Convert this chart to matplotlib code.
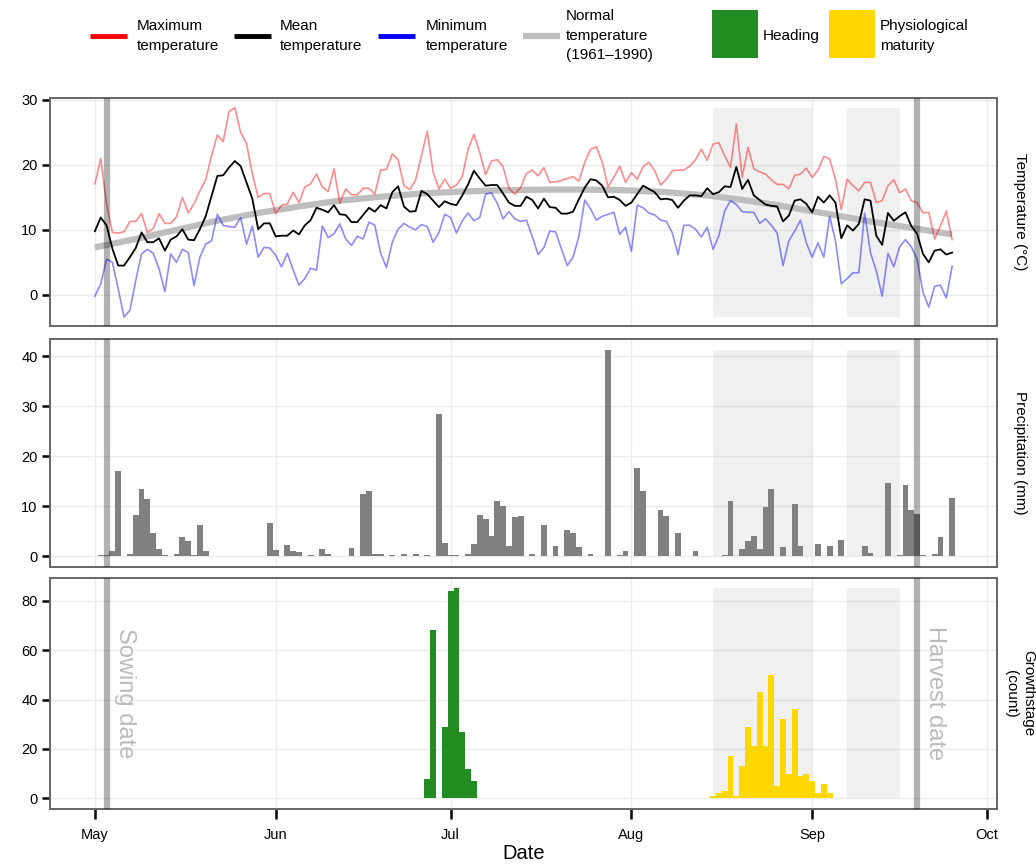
import numpy as np
import matplotlib
matplotlib.use("Agg")
import matplotlib.pyplot as plt
from matplotlib.lines import Line2D
from matplotlib.patches import Rectangle
import matplotlib.transforms as mtransforms

plt.rcParams['font.family'] = ['Liberation Sans', 'DejaVu Sans']

# dias desde el 1 de mayo
t_max = [17.1, 21.0, 14.0, 9.6, 9.5, 9.7, 11.3, 11.3, 12.5, 9.6,
         10.2, 12.5, 11.0, 11.0, 12.0, 15.0, 12.6, 14.0, 16.0, 17.7,
         21.4, 24.6, 23.6, 28.2, 28.8, 25.0, 23.3, 18.6, 15.0, 15.6,
         15.6, 12.5, 13.8, 14.0, 15.8, 14.2, 16.6, 17.1, 18.6, 16.6,
         15.9, 19.4, 14.1, 16.3, 15.4, 15.4, 16.4, 16.4, 15.5, 19.2,
         19.3, 21.7, 20.8, 16.8, 16.2, 17.7, 21.4, 25.2, 18.9, 16.3,
         17.8, 16.4, 16.9, 18.2, 22.4, 24.7, 21.9, 18.5, 20.6, 20.8,
         19.7, 16.4, 15.5, 16.5, 18.7, 19.2, 18.3, 19.6, 17.3, 17.4,
         17.6, 17.9, 18.2, 17.5, 20.4, 22.4, 22.8, 20.4, 16.6, 18.1,
         19.8, 17.3, 18.8, 17.8, 19.7, 20.4, 19.1, 16.9, 17.8, 19.1,
         19.2, 19.2, 19.8, 20.8, 22.4, 20.7, 23.2, 23.4, 21.4, 19.6,
         26.3, 18.1, 22.7, 19.4, 18.9, 18.6, 17.7, 17.0, 17.0, 16.3,
         18.4, 18.6, 19.5, 18.1, 19.2, 21.3, 20.9, 17.8, 13.1, 17.8,
         16.8, 16.0, 17.3, 17.3, 14.2, 14.5, 16.8, 17.7, 15.7, 16.3,
         14.5, 14.2, 12.6, 12.7, 8.6, 10.6, 12.9, 8.5]

t_mean = [9.8, 11.9, 10.7, 7.1, 4.5, 4.5, 5.8, 7.2, 9.6, 8.1,
          8.1, 8.7, 6.8, 8.5, 9.0, 10.1, 8.5, 8.4, 10.1, 12.1,
          15.2, 18.3, 18.4, 19.6, 20.6, 19.8, 17.3, 14.8, 10.1, 11.0,
          11.0, 9.0, 9.1, 9.1, 9.9, 9.3, 10.7, 11.5, 13.4, 13.1,
          12.7, 13.8, 12.4, 12.3, 11.2, 11.2, 12.3, 13.4, 12.8, 13.8,
          13.3, 15.8, 16.7, 13.6, 12.8, 12.9, 16.0, 15.5, 14.5, 13.5,
          14.4, 14.0, 13.8, 15.3, 17.0, 19.1, 17.9, 16.8, 16.9, 16.9,
          15.6, 14.2, 13.7, 13.7, 15.1, 14.6, 13.3, 14.8, 13.5, 13.4,
          12.5, 12.5, 12.8, 14.7, 16.5, 17.8, 17.6, 16.8, 15.0, 15.1,
          14.6, 13.7, 14.2, 15.5, 16.8, 16.3, 15.8, 14.7, 14.8, 14.6,
          13.4, 14.5, 15.3, 15.3, 15.2, 16.4, 15.5, 15.8, 16.7, 16.6,
          19.7, 16.3, 17.7, 15.3, 14.6, 13.9, 13.7, 13.6, 11.3, 12.2,
          14.5, 14.7, 14.0, 12.7, 15.1, 14.2, 15.3, 14.2, 8.7, 10.7,
          9.9, 10.9, 14.7, 14.5, 9.1, 7.7, 12.6, 11.4, 12.1, 12.7,
          10.6, 9.4, 6.3, 5.0, 6.8, 7.0, 6.2, 6.5]

t_min = [-0.2, 1.7, 5.5, 5.0, 0.9, -3.4, -2.4, 2.2, 6.3, 7.0,
         6.4, 4.0, 0.5, 6.3, 5.0, 7.0, 6.5, 1.4, 5.8, 7.8,
         8.3, 12.4, 10.7, 10.5, 10.4, 11.9, 7.8, 10.6, 5.8, 7.3,
         7.2, 6.1, 4.3, 6.4, 3.8, 1.5, 2.5, 4.1, 3.8, 10.6,
         8.8, 9.4, 10.9, 8.6, 7.6, 9.0, 8.6, 11.2, 10.7, 6.4,
         4.2, 8.1, 10.1, 11.0, 10.4, 10.0, 10.8, 10.5, 8.1, 9.6,
         12.4, 11.9, 9.5, 11.4, 12.6, 11.4, 11.9, 15.5, 15.7, 14.1,
         11.7, 12.8, 11.7, 11.3, 11.5, 9.0, 6.2, 7.3, 9.8, 9.7,
         7.1, 4.5, 5.8, 9.0, 14.6, 13.2, 11.5, 12.1, 12.4, 12.7,
         9.3, 10.4, 6.7, 13.8, 13.4, 12.6, 12.3, 11.5, 11.3, 9.6,
         6.2, 10.7, 10.7, 10.1, 8.9, 10.4, 7.0, 9.1, 12.9, 14.5,
         13.9, 12.8, 12.7, 12.7, 11.0, 11.7, 10.7, 9.5, 4.5, 8.3,
         9.8, 11.5, 8.0, 5.8, 8.0, 5.8, 12.1, 8.3, 1.7, 2.5,
         3.4, 3.4, 12.6, 6.5, 3.7, -0.2, 6.4, 4.3, 7.4, 8.5,
         7.4, 5.5, 0.4, -1.9, 1.3, 1.5, -0.5, 4.4]

normal_days = [0, 7, 14, 21, 28, 35, 42, 49, 56, 63, 70,
               77, 84, 91, 98, 105, 112, 119, 126, 133, 140, 147]
normal_temp = [7.3, 8.6, 10.0, 11.4, 12.6, 13.6, 14.5, 15.1, 15.6, 15.9, 16.1,
               16.2, 16.2, 16.1, 15.8, 15.3, 14.5, 13.5, 12.4, 11.3, 10.3, 9.3]

precip = [0.1, 0.2, 0.3, 1.0, 17.1, 0.0, 0.5, 8.3, 13.5, 11.5,
          4.7, 1.5, 0.3, 0.0, 0.5, 3.8, 3.0, 0.2, 6.3, 1.0,
          0.1, 0.1, 0.1, 0.1, 0.1, 0.1, 0.0, 0.0, 0.0, 0.0,
          6.7, 1.3, 0.0, 2.3, 1.1, 0.8, 0.0, 0.3, 0.0, 1.5,
          0.5, 0.0, 0.0, 0.0, 1.6, 0.0, 12.5, 13.1, 0.5, 0.5,
          0.0, 0.3, 0.0, 0.4, 0.0, 0.5, 0.0, 0.3, 0.0, 28.5,
          2.7, 0.2, 0.2, 0.0, 0.4, 2.5, 8.3, 7.5, 4.0, 11.0,
          10.0, 2.0, 7.8, 8.0, 0.0, 0.5, 0.0, 6.2, 0.0, 2.0,
          0.0, 5.3, 4.7, 1.8, 0.0, 0.5, 0.0, 0.0, 41.3, 0.0,
          0.2, 1.0, 0.0, 17.7, 13.0, 0.0, 0.0, 9.3, 8.0, 0.0,
          4.7, 0.0, 0.0, 1.0, 0.0, 0.0, 0.0, 0.0, 0.3, 11.0,
          0.0, 1.5, 3.0, 4.0, 1.5, 9.8, 13.5, 0.0, 1.8, 0.0,
          10.5, 2.0, 0.0, 0.0, 2.5, 0.0, 2.0, 0.0, 3.3, 0.0,
          0.0, 0.0, 2.0, 0.7, 0.0, 0.0, 14.7, 0.0, 0.3, 14.2,
          9.2, 8.4, 0.2, 0.0, 0.5, 3.8, 0.0, 11.7]

heading_days = [57, 58, 59, 60, 61, 62, 63, 64, 65]
heading_count = [8, 68, 0, 29, 84, 85, 27, 12, 7]

maturity_days = list(range(106, 127))
maturity_count = [1, 2, 3, 17, 1, 13, 29, 21, 43, 21, 50,
                  5, 32, 10, 36, 9, 10, 7, 2, 6, 2]

sowing_day = 2
harvest_day = 141
periods = [(106, 123), (129, 138)]

month_days = [0, 31, 61, 92, 123, 153]
month_labels = ['May', 'Jun', 'Jul', 'Aug', 'Sep', 'Oct']

days = np.arange(len(t_max))

W, H = 1036, 866
fig = plt.figure(figsize=(W / 100, H / 100), dpi=100)


def fx(px):
    return px / W


def fy(py):
    return 1 - py / H


left, right = 50, 997
paneles = [(98, 326), (339, 567), (578, 809)]
axes = []
for top, bot in paneles:
    ax = fig.add_axes([fx(left), fy(bot), fx(right - left), (bot - top) / H])
    axes.append(ax)

ax1, ax2, ax3 = axes

for ax in axes:
    ax.set_xlim(-7.7, 154.7)
    ax.set_xticks(month_days)
    ax.grid(True, color='#EBEBEB', lw=1.0, zorder=0)
    ax.set_axisbelow(True)
    for s in ax.spines.values():
        s.set_color('#666666')
        s.set_linewidth(1.4)
    ax.tick_params(axis='y', length=6, width=1.8, color='black', labelsize=10.5, pad=3)
    ax.tick_params(axis='x', length=7, width=1.8, color='black', labelsize=10.5, pad=7)
    ax.axvline(sowing_day, color='black', alpha=0.3, lw=4.5, zorder=5)
    ax.axvline(harvest_day, color='black', alpha=0.3, lw=4.5, zorder=5)

for ax in (ax1, ax2):
    ax.tick_params(axis='x', length=0, labelbottom=False)

# periodos sombreados
def sombrear(ax, ymin, ymax):
    for a, b in periods:
        ax.add_patch(Rectangle((a, ymin), b - a, ymax - ymin, facecolor='black',
                               alpha=0.06, edgecolor='none', zorder=1))


# temperatura
sombrear(ax1, min(t_min), max(t_max))
ax1.plot(normal_days, normal_temp, color='#BEBEBE', lw=4.5, solid_capstyle='butt', zorder=2)
ax1.plot(days, t_max, color='red', alpha=0.45, lw=1.2, zorder=3)
ax1.plot(days, t_min, color='blue', alpha=0.45, lw=1.2, zorder=3)
ax1.plot(days, t_mean, color='black', lw=1.3, zorder=4)
ax1.set_ylim(-4.8, 30.3)
ax1.set_yticks([0, 10, 20, 30])

# precipitacion
sombrear(ax2, 0, max(precip))
ax2.bar(days, precip, width=1.0, color='#808080', zorder=3)
ax2.set_ylim(-2.1, 43.4)
ax2.set_yticks([0, 10, 20, 30, 40])

# estados de crecimiento
sombrear(ax3, 0, max(max(heading_count), max(maturity_count)))
ax3.bar(heading_days, heading_count, width=1.0, color='#228B22', zorder=3)
ax3.bar(maturity_days, maturity_count, width=1.0, color='#FFD700', zorder=3)
ax3.set_ylim(-4.3, 89.2)
ax3.set_yticks([0, 20, 40, 60, 80])
ax3.set_xticklabels(month_labels)
ax3.set_xlabel('Date', fontsize=14.5, labelpad=1)

trans = mtransforms.blended_transform_factory(ax3.transData, ax3.transAxes)
ax3.text(sowing_day + 3.2, 0.50, 'Sowing date', transform=trans, rotation=-90,
         ha='center', va='center', color='#BBBBBB', fontsize=17)
ax3.text(harvest_day + 3.0, 0.50, 'Harvest date', transform=trans, rotation=-90,
         ha='center', va='center', color='#BBBBBB', fontsize=17)

# etiquetas a la derecha
etiquetas = ['Temperature (°C)', 'Precipitation (mm)', 'Growthstage\n(count)']
for (top, bot), txt in zip(paneles, etiquetas):
    fig.text(fx(1020), fy((top + bot) / 2), txt, rotation=-90, ha='center', va='center',
             fontsize=11, linespacing=1.3)

# leyenda
def linea_leyenda(x0, color, lw):
    fig.add_artist(Line2D([fx(x0), fx(x0 + 37)], [fy(36), fy(36)], color=color, lw=lw,
                          solid_capstyle='butt'))


def texto_leyenda(x0, txt):
    fig.text(fx(x0), fy(36), txt, ha='left', va='center', fontsize=11, linespacing=1.5)


linea_leyenda(90, 'red', 3.5)
texto_leyenda(137, 'Maximum\ntemperature')
linea_leyenda(234, 'black', 3.5)
texto_leyenda(280, 'Mean\ntemperature')
linea_leyenda(378, 'blue', 3.5)
texto_leyenda(426, 'Minimum\ntemperature')
linea_leyenda(523, '#BEBEBE', 4.5)
texto_leyenda(566, 'Normal\ntemperature\n(1961\u20131990)')

fig.add_artist(Rectangle((fx(712), fy(58)), fx(46), 48 / H, facecolor='#228B22',
                         edgecolor='none'))
texto_leyenda(763, 'Heading')
fig.add_artist(Rectangle((fx(829), fy(58)), fx(46), 48 / H, facecolor='#FFD700',
                         edgecolor='none'))
texto_leyenda(880, 'Physiological\nmaturity')

fig.savefig('out.png', dpi=100)
